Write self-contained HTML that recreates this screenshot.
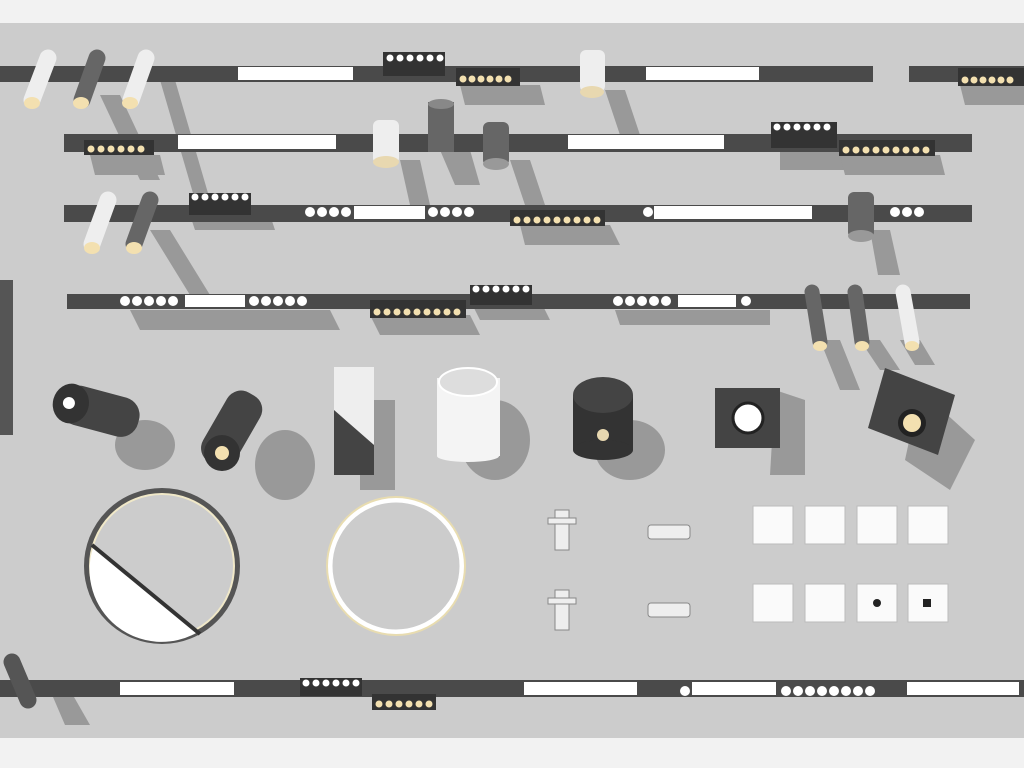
<!DOCTYPE html>
<html><head><style>html,body{margin:0;padding:0;background:#f2f2f2}svg{display:block}</style></head><body>
<svg width="1024" height="768" viewBox="0 0 1024 768" xmlns="http://www.w3.org/2000/svg">
<rect width="1024" height="768" fill="#f2f2f2"/>
<rect x="0" y="23" width="1024" height="715" fill="#cccccc"/>
<!-- left edge items -->
<rect x="0" y="280" width="13" height="155" fill="#555"/>
<g fill="#999">
<!-- shadows -->
<polygon points="160,80 175,80 210,200 195,200"/><polygon points="100,95 120,95 160,180 140,180"/>
<polygon points="605,90 625,90 640,135 620,135"/><polygon points="440,150 470,150 480,185 455,185"/>
<polygon points="510,160 530,160 545,205 525,205"/><polygon points="400,160 420,160 430,205 410,205"/>
<polygon points="150,230 170,230 210,295 190,295"/><polygon points="870,230 890,230 900,275 878,275"/>
<polygon points="820,340 840,340 860,390 840,390"/><polygon points="860,340 880,340 900,370 880,370"/>
<polygon points="900,340 920,340 935,365 915,365"/>
<polygon points="130,310 330,310 340,330 140,330"/><polygon points="370,315 470,315 480,335 380,335"/>
<polygon points="470,300 540,300 550,320 480,320"/><polygon points="615,310 770,310 770,325 620,325"/>
<polygon points="460,85 540,85 545,105 465,105"/><polygon points="780,150 860,150 860,170 780,170"/>
<polygon points="840,155 940,155 945,175 845,175"/><polygon points="520,225 610,225 620,245 525,245"/>
<polygon points="190,215 270,215 275,230 195,230"/><polygon points="90,155 160,155 165,175 95,175"/>
<polygon points="960,85 1024,85 1024,105 965,105"/>
<ellipse cx="145" cy="445" rx="30" ry="25"/><ellipse cx="285" cy="465" rx="30" ry="35"/>
<polygon points="360,400 395,400 395,490 360,490"/><ellipse cx="495" cy="440" rx="35" ry="40"/>
<ellipse cx="630" cy="450" rx="35" ry="30"/><polygon points="775,390 805,400 805,475 770,475"/>
<polygon points="920,390 975,440 950,490 905,460"/>
<polygon points="50,690 70,690 90,725 65,725"/>
</g>
<!-- rails -->
<g fill="#4a4a4a">
<rect x="0" y="66" width="873" height="16"/><rect x="909" y="66" width="115" height="16"/>
<rect x="64" y="134" width="908" height="18"/><rect x="64" y="205" width="908" height="17"/>
<rect x="67" y="294" width="903" height="15"/><rect x="0" y="680" width="1024" height="17"/>
</g>
<g fill="#fff">
<rect x="238" y="67" width="115" height="13"/><rect x="646" y="67" width="113" height="13"/>
<rect x="178" y="135" width="158" height="14"/><rect x="568" y="135" width="156" height="14"/>
<rect x="354" y="206" width="71" height="13"/><rect x="654" y="206" width="158" height="13"/>
<rect x="185" y="295" width="60" height="12"/><rect x="678" y="295" width="58" height="12"/>
<rect x="120" y="682" width="114" height="13"/><rect x="524" y="682" width="113" height="13"/>
<rect x="692" y="682" width="84" height="13"/><rect x="907" y="682" width="112" height="13"/>
</g>
<!-- black modules with dots -->
<g fill="#333">
<rect x="383" y="52" width="62" height="24"/><rect x="456" y="68" width="64" height="18"/>
<rect x="958" y="68" width="66" height="18"/><rect x="84" y="140" width="70" height="15"/>
<rect x="771" y="122" width="66" height="26"/><rect x="839" y="140" width="96" height="16"/>
<rect x="189" y="193" width="62" height="22"/><rect x="510" y="210" width="95" height="16"/>
<rect x="470" y="285" width="62" height="20"/><rect x="370" y="300" width="96" height="18"/>
<rect x="300" y="678" width="62" height="18"/><rect x="372" y="694" width="64" height="16"/>
</g>
<g fill="#fff">
<circle cx="390" cy="58" r="3.5"/><circle cx="400" cy="58" r="3.5"/><circle cx="410" cy="58" r="3.5"/><circle cx="420" cy="58" r="3.5"/><circle cx="430" cy="58" r="3.5"/><circle cx="440" cy="58" r="3.5"/>
<circle cx="777" cy="127" r="3.5"/><circle cx="787" cy="127" r="3.5"/><circle cx="797" cy="127" r="3.5"/><circle cx="807" cy="127" r="3.5"/><circle cx="817" cy="127" r="3.5"/><circle cx="827" cy="127" r="3.5"/>
<circle cx="195" cy="197" r="3.5"/><circle cx="205" cy="197" r="3.5"/><circle cx="215" cy="197" r="3.5"/><circle cx="225" cy="197" r="3.5"/><circle cx="235" cy="197" r="3.5"/><circle cx="245" cy="197" r="3.5"/>
<circle cx="476" cy="289" r="3.5"/><circle cx="486" cy="289" r="3.5"/><circle cx="496" cy="289" r="3.5"/><circle cx="506" cy="289" r="3.5"/><circle cx="516" cy="289" r="3.5"/><circle cx="526" cy="289" r="3.5"/>
<circle cx="306" cy="683" r="3.5"/><circle cx="316" cy="683" r="3.5"/><circle cx="326" cy="683" r="3.5"/><circle cx="336" cy="683" r="3.5"/><circle cx="346" cy="683" r="3.5"/><circle cx="356" cy="683" r="3.5"/>
<circle cx="310" cy="212" r="5"/><circle cx="322" cy="212" r="5"/><circle cx="334" cy="212" r="5"/><circle cx="346" cy="212" r="5"/>
<circle cx="433" cy="212" r="5"/><circle cx="445" cy="212" r="5"/><circle cx="457" cy="212" r="5"/><circle cx="469" cy="212" r="5"/>
<circle cx="648" cy="212" r="5"/><circle cx="895" cy="212" r="5"/><circle cx="907" cy="212" r="5"/><circle cx="919" cy="212" r="5"/>
<circle cx="125" cy="301" r="5"/><circle cx="137" cy="301" r="5"/><circle cx="149" cy="301" r="5"/><circle cx="161" cy="301" r="5"/><circle cx="173" cy="301" r="5"/>
<circle cx="254" cy="301" r="5"/><circle cx="266" cy="301" r="5"/><circle cx="278" cy="301" r="5"/><circle cx="290" cy="301" r="5"/><circle cx="302" cy="301" r="5"/>
<circle cx="618" cy="301" r="5"/><circle cx="630" cy="301" r="5"/><circle cx="642" cy="301" r="5"/><circle cx="654" cy="301" r="5"/><circle cx="666" cy="301" r="5"/><circle cx="746" cy="301" r="5"/>
<circle cx="685" cy="691" r="5"/><circle cx="786" cy="691" r="5"/><circle cx="798" cy="691" r="5"/><circle cx="810" cy="691" r="5"/><circle cx="822" cy="691" r="5"/><circle cx="834" cy="691" r="5"/><circle cx="846" cy="691" r="5"/><circle cx="858" cy="691" r="5"/><circle cx="870" cy="691" r="5"/>
</g>
<g fill="#f3e0b0">
<circle cx="463" cy="79" r="3.5"/><circle cx="472" cy="79" r="3.5"/><circle cx="481" cy="79" r="3.5"/><circle cx="490" cy="79" r="3.5"/><circle cx="499" cy="79" r="3.5"/><circle cx="508" cy="79" r="3.5"/>
<circle cx="965" cy="80" r="3.5"/><circle cx="974" cy="80" r="3.5"/><circle cx="983" cy="80" r="3.5"/><circle cx="992" cy="80" r="3.5"/><circle cx="1001" cy="80" r="3.5"/><circle cx="1010" cy="80" r="3.5"/>
<circle cx="91" cy="149" r="3.5"/><circle cx="101" cy="149" r="3.5"/><circle cx="111" cy="149" r="3.5"/><circle cx="121" cy="149" r="3.5"/><circle cx="131" cy="149" r="3.5"/><circle cx="141" cy="149" r="3.5"/>
<circle cx="846" cy="150" r="3.5"/><circle cx="856" cy="150" r="3.5"/><circle cx="866" cy="150" r="3.5"/><circle cx="876" cy="150" r="3.5"/><circle cx="886" cy="150" r="3.5"/><circle cx="896" cy="150" r="3.5"/><circle cx="906" cy="150" r="3.5"/><circle cx="916" cy="150" r="3.5"/><circle cx="926" cy="150" r="3.5"/>
<circle cx="517" cy="220" r="3.5"/><circle cx="527" cy="220" r="3.5"/><circle cx="537" cy="220" r="3.5"/><circle cx="547" cy="220" r="3.5"/><circle cx="557" cy="220" r="3.5"/><circle cx="567" cy="220" r="3.5"/><circle cx="577" cy="220" r="3.5"/><circle cx="587" cy="220" r="3.5"/><circle cx="597" cy="220" r="3.5"/>
<circle cx="377" cy="312" r="3.5"/><circle cx="387" cy="312" r="3.5"/><circle cx="397" cy="312" r="3.5"/><circle cx="407" cy="312" r="3.5"/><circle cx="417" cy="312" r="3.5"/><circle cx="427" cy="312" r="3.5"/><circle cx="437" cy="312" r="3.5"/><circle cx="447" cy="312" r="3.5"/><circle cx="457" cy="312" r="3.5"/>
<circle cx="379" cy="704" r="3.5"/><circle cx="389" cy="704" r="3.5"/><circle cx="399" cy="704" r="3.5"/><circle cx="409" cy="704" r="3.5"/><circle cx="419" cy="704" r="3.5"/><circle cx="429" cy="704" r="3.5"/>
</g>
<!-- cylinders (tilted spots) -->
<g stroke-linecap="round">
<line x1="48" y1="58" x2="32" y2="100" stroke="#eee" stroke-width="17"/>
<line x1="97" y1="58" x2="82" y2="100" stroke="#666" stroke-width="17"/>
<line x1="146" y1="58" x2="131" y2="100" stroke="#eee" stroke-width="17"/>
<line x1="108" y1="200" x2="92" y2="244" stroke="#eee" stroke-width="17"/>
<line x1="150" y1="200" x2="134" y2="244" stroke="#666" stroke-width="17"/>
<line x1="812" y1="292" x2="820" y2="342" stroke="#666" stroke-width="15"/>
<line x1="855" y1="292" x2="862" y2="342" stroke="#666" stroke-width="15"/>
<line x1="903" y1="292" x2="912" y2="342" stroke="#eee" stroke-width="15"/>
<line x1="12" y1="662" x2="28" y2="700" stroke="#555" stroke-width="17"/>
</g>
<g fill="#f3e0b0"><ellipse cx="32" cy="103" rx="8" ry="6"/><ellipse cx="81" cy="103" rx="8" ry="6"/><ellipse cx="130" cy="103" rx="8" ry="6"/><ellipse cx="92" cy="248" rx="8" ry="6"/><ellipse cx="134" cy="248" rx="8" ry="6"/><ellipse cx="820" cy="346" rx="7" ry="5"/><ellipse cx="862" cy="346" rx="7" ry="5"/><ellipse cx="912" cy="346" rx="7" ry="5"/></g>
<!-- vertical cylinders -->
<rect x="580" y="50" width="25" height="42" rx="6" fill="#eee"/><ellipse cx="592" cy="92" rx="12" ry="6" fill="#e8d8b0"/>
<rect x="373" y="120" width="26" height="44" rx="6" fill="#eee"/><ellipse cx="386" cy="162" rx="13" ry="6" fill="#e8d8b0"/>
<rect x="428" y="102" width="26" height="50" fill="#666"/><ellipse cx="441" cy="104" rx="13" ry="5" fill="#888"/>
<rect x="483" y="122" width="26" height="44" rx="6" fill="#666"/><ellipse cx="496" cy="164" rx="13" ry="6" fill="#999"/>
<rect x="848" y="192" width="26" height="46" rx="6" fill="#666"/><ellipse cx="861" cy="236" rx="13" ry="6" fill="#999"/>
<!-- big fixtures -->
<g transform="rotate(15 95 410)"><rect x="60" y="390" width="80" height="40" rx="18" fill="#444"/><ellipse cx="70" cy="410" rx="18" ry="20" fill="#333"/><circle cx="68" cy="410" r="6" fill="#fff"/></g>
<g transform="rotate(30 235 425)"><rect x="215" y="390" width="38" height="80" rx="16" fill="#444"/></g>
<circle cx="222" cy="453" r="18" fill="#333"/><circle cx="222" cy="453" r="7" fill="#f3e0b0"/>
<rect x="334" y="367" width="40" height="108" fill="#444"/><polygon points="334,367 374,367 374,445 334,410" fill="#eee"/>
<rect x="437" y="378" width="63" height="78" fill="#f4f4f4"/><ellipse cx="468" cy="456" rx="31" ry="6" fill="#f4f4f4"/><ellipse cx="468" cy="382" rx="29" ry="14" fill="#ddd" stroke="#fff" stroke-width="2"/>
<rect x="573" y="395" width="60" height="55" fill="#333"/><ellipse cx="603" cy="395" rx="30" ry="18" fill="#444"/><ellipse cx="603" cy="450" rx="30" ry="10" fill="#333"/><circle cx="603" cy="435" r="6" fill="#e8d8b0"/>
<rect x="715" y="388" width="65" height="60" fill="#444"/><circle cx="748" cy="418" r="15" fill="#fff" stroke="#222" stroke-width="3"/><circle cx="748" cy="418" r="8" fill="#fff"/>
<polygon points="885,368 955,395 938,455 868,428" fill="#444"/><circle cx="912" cy="423" r="14" fill="#222"/><circle cx="912" cy="423" r="9" fill="#f3e0b0"/>
<!-- rings -->
<circle cx="162" cy="566" r="75" fill="none" stroke="#555" stroke-width="6"/><circle cx="162" cy="566" r="72" fill="none" stroke="#f0e8c8" stroke-width="2"/>
<path d="M93,548 L198,632 A72,72 0 0 1 93,548 Z" fill="#fff"/><line x1="92" y1="545" x2="200" y2="634" stroke="#333" stroke-width="4"/>
<circle cx="396" cy="566" r="66" fill="none" stroke="#fff" stroke-width="5"/><circle cx="396" cy="566" r="69" fill="none" stroke="#e8dcb0" stroke-width="2"/>
<!-- small items -->
<g fill="#eee" stroke="#888" stroke-width="1">
<rect x="555" y="510" width="14" height="40"/><rect x="548" y="518" width="28" height="6"/>
<rect x="555" y="590" width="14" height="40"/><rect x="548" y="598" width="28" height="6"/>
<rect x="648" y="525" width="42" height="14" rx="3"/><rect x="648" y="603" width="42" height="14" rx="3"/>
</g>
<g fill="#fafafa" stroke="#bbb">
<rect x="753" y="506" width="40" height="38"/><rect x="805" y="506" width="40" height="38"/><rect x="857" y="506" width="40" height="38"/><rect x="908" y="506" width="40" height="38"/>
<rect x="753" y="584" width="40" height="38"/><rect x="805" y="584" width="40" height="38"/><rect x="857" y="584" width="40" height="38"/><rect x="908" y="584" width="40" height="38"/>
</g>
<circle cx="877" cy="603" r="4" fill="#222"/><rect x="923" y="599" width="8" height="8" fill="#222"/>
</svg>
</body></html>
